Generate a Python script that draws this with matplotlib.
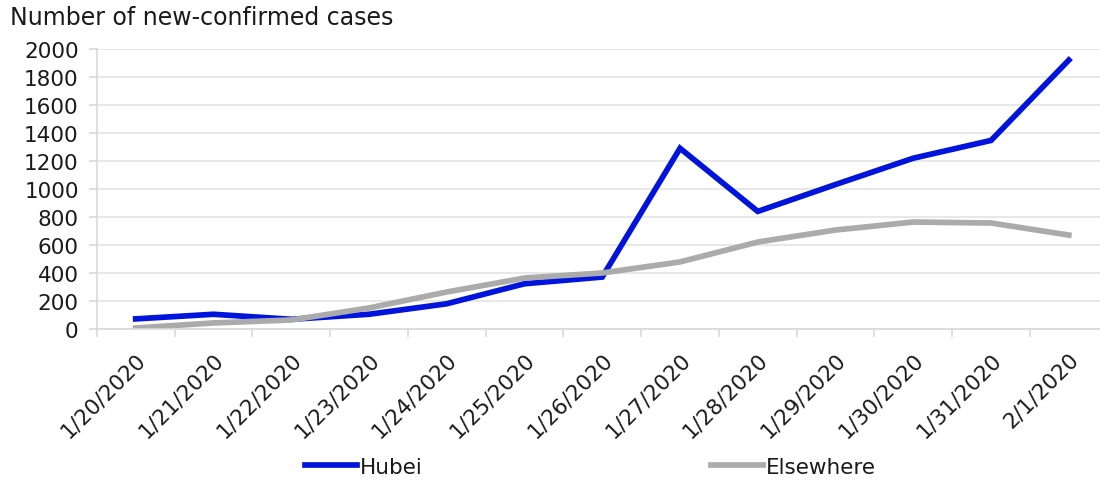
import numpy as np
import matplotlib
matplotlib.use('Agg')
import matplotlib.pyplot as plt

dates = ['1/20/2020', '1/21/2020', '1/22/2020', '1/23/2020', '1/24/2020', '1/25/2020',
         '1/26/2020', '1/27/2020', '1/28/2020', '1/29/2020', '1/30/2020', '1/31/2020',
         '2/1/2020']
hubei = [72, 105, 69, 105, 180, 323, 371, 1291, 840, 1032, 1220, 1347, 1921]
elsewhere = [7, 43, 64, 150, 264, 364, 400, 479, 621, 707, 764, 757, 671]

plt.rcParams['font.family'] = ['DejaVu Sans']

fig = plt.figure(figsize=(11, 4.81), dpi=100)
ax = fig.add_axes([0.088, 0.314, 0.919, 0.582])

x = np.arange(len(dates))
ax.plot(x, hubei, color='#0014dc', lw=4.1, label='Hubei', solid_joinstyle='miter')
ax.plot(x, elsewhere, color='#ababab', lw=4.1, label='Elsewhere', solid_joinstyle='miter')

ax.set_xlim(-0.5, len(dates) - 0.5)
ax.set_ylim(0, 2000)
ax.set_yticks(np.arange(0, 2001, 200))
ax.yaxis.grid(True, color='#e4e4e4', lw=1.2)
ax.set_axisbelow(True)

ax.set_xticks(x)
ax.set_xticklabels(dates, rotation=45, ha='right', va='top', rotation_mode='anchor')
ax.set_xticks(np.arange(-0.5, len(dates), 1), minor=True)
ax.tick_params(axis='x', which='major', length=0, pad=14, labelsize=15.5, colors='#1a1a1a')
ax.tick_params(axis='x', which='minor', length=6, width=1.2, color='#d9d9d9')
ax.tick_params(axis='y', length=6, width=1.2, color='#d9d9d9', labelsize=15.5,
               labelcolor='#1a1a1a', pad=7)

for s in ['top', 'right']:
    ax.spines[s].set_visible(False)
for s in ['left', 'bottom']:
    ax.spines[s].set_color('#d9d9d9')
    ax.spines[s].set_linewidth(1.2)

fig.text(0.009, 0.962, 'Number of new-confirmed cases', fontsize=17, color='#1a1a1a',
         va='center', ha='left')

fig.legend(loc='center', ncol=2, bbox_to_anchor=(0.537, 0.028), frameon=False,
           fontsize=15.5, handlelength=2.4, handletextpad=0.15, columnspacing=13.4,
           labelcolor='#1a1a1a')

fig.savefig('out.png', dpi=100)
